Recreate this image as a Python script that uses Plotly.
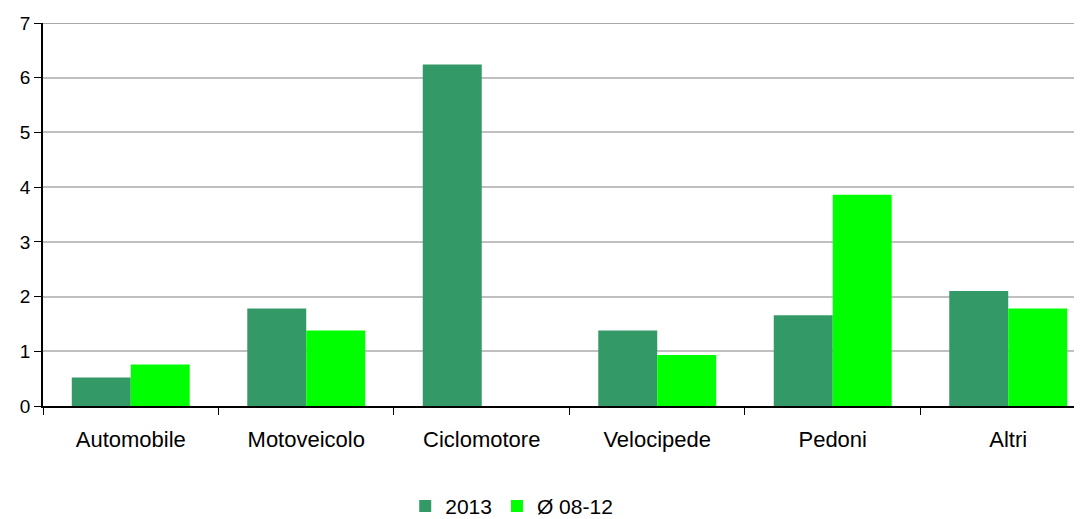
import plotly.graph_objects as go

categories = ["Automobile", "Motoveicolo", "Ciclomotore", "Velocipede", "Pedoni", "Altri"]
series_2013 = [0.52, 1.78, 6.24, 1.38, 1.66, 2.10]
series_avg = [0.76, 1.38, 0.0, 0.93, 3.86, 1.78]
y_ticks = [0, 1, 2, 3, 4, 5, 6, 7]

FONT = "Liberation Sans, Arial, sans-serif"

fig = go.Figure()
fig.add_trace(go.Bar(x=categories, y=series_2013, name="2013", marker_color="#339966",
                     marker_line_width=0))
fig.add_trace(go.Bar(x=categories, y=series_avg, name="Ø 08-12", marker_color="#00FF00",
                     marker_line_width=0))

# top gridline slightly darker, as in the reference
fig.add_hline(y=7, line_color="#8c8c8c", line_width=1.5, layer="below")

fig.update_layout(
    width=1074, height=511,
    margin=dict(l=35, r=2, t=15, b=113, autoexpand=False),
    plot_bgcolor="white", paper_bgcolor="white",
    barmode="group", bargap=0.328, bargroupgap=0,
    font=dict(family=FONT, size=20, color="black"),
    showlegend=True,
    legend=dict(orientation="h", x=0.452, xanchor="center", y=-0.262, yanchor="middle",
                font=dict(size=21), itemwidth=30, tracegroupgap=0),
)
fig.update_xaxes(
    type="category", range=[-0.5, 5.409], showline=True, linecolor="black", linewidth=1.5,
    ticks="outside", tickson="boundaries", ticklen=7, tickcolor="black",
    showgrid=False, tickfont=dict(size=22), ticklabelstandoff=13, automargin=False,
)
fig.update_yaxes(
    range=[0, 7], tickvals=y_ticks, showline=True, linecolor="black", linewidth=1.5,
    ticks="outside", ticklen=7, tickcolor="black",
    showgrid=True, gridcolor="#c0c0c0", gridwidth=1.5, zeroline=False,
    tickfont=dict(size=19), ticklabelstandoff=0, automargin=False,
)

fig.write_html("out.html")
